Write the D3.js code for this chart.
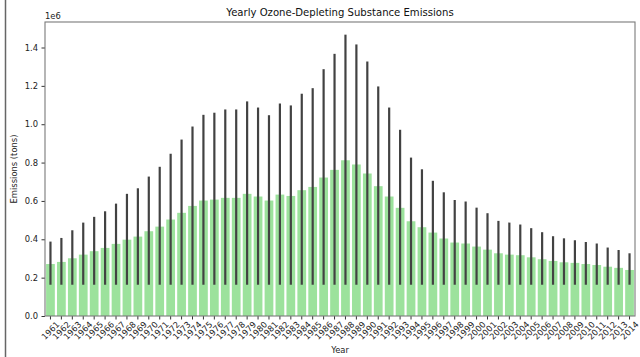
<!DOCTYPE html>
<html>
<head>
<meta charset="utf-8">
<script src="https://cdn.jsdelivr.net/npm/d3@7"></script>
<style>
  html, body { margin: 0; padding: 0; background: #fff; }
  svg { display: block; font-family: "DejaVu Sans", sans-serif; }
</style>
</head>
<body>
<svg id="chart" width="640" height="357"></svg>
<script>
// Yearly emissions (tons): bar = mean, whisker = confidence interval
const years = [1961,1962,1963,1964,1965,1966,1967,1968,1969,1970,1971,1972,1973,1974,1975,1976,1977,1978,1979,1980,
  1981,1982,1983,1984,1985,1986,1987,1988,1989,1990,1991,1992,1993,1994,1995,1996,1997,1998,1999,2000,
  2001,2002,2003,2004,2005,2006,2007,2008,2009,2010,2011,2012,2013,2014];

const meanEmissions = [271000,282000,301000,320000,338000,355000,376000,398000,414000,442000,
  466000,503000,538000,574000,602000,607000,616000,616000,637000,623000,
  602000,633000,626000,656000,673000,722000,762000,812000,790000,743000,
  677000,623000,564000,494000,463000,435000,404000,383000,378000,362000,
  346000,327000,320000,317000,306000,296000,287000,280000,277000,271000,
  266000,257000,251000,240000];

const ciHigh = [388000,407000,447000,487000,517000,546000,586000,637000,666000,727000,
  778000,846000,920000,988000,1049000,1060000,1077000,1077000,1119000,1087000,
  1047000,1108000,1098000,1159000,1188000,1287000,1367000,1467000,1416000,1327000,
  1197000,1087000,971000,826000,765000,705000,645000,605000,597000,565000,
  536000,496000,487000,477000,458000,437000,416000,405000,395000,386000,
  378000,357000,344000,327000];

const ciLow = [163000,163000,163000,163000,163000,163000,163000,163000,163000,163000,
  163000,163000,163000,163000,163000,163000,163000,163000,163000,163000,
  163000,163000,163000,163000,163000,163000,163000,163000,163000,163000,
  163000,163000,163000,163000,163000,163000,163000,163000,163000,163000,
  163000,163000,163000,163000,163000,163000,163000,163000,163000,163000,
  163000,163000,163000,163000];

const yTicks = [0, 200000, 400000, 600000, 800000, 1000000, 1200000, 1400000];

const rows = years.map((y, i) => ({ year: y, mean: meanEmissions[i], lo: ciLow[i], hi: ciHigh[i] }));

const svg = d3.select("#chart");
const margin = { left: 45, right: 5, top: 22, bottom: 41 };
const W = 640, H = 357;
const plotL = margin.left, plotR = W - margin.right, plotT = margin.top, plotB = H - margin.bottom;

// outer frame line on the left edge
svg.append("line").attr("x1", 5.5).attr("x2", 5.5).attr("y1", 0).attr("y2", H)
  .attr("stroke", "#666").attr("stroke-width", 1.5);

const x = d3.scaleBand().domain(years).range([plotL, plotR]).paddingInner(0.2).paddingOuter(0.1);
const y = d3.scaleLinear().domain([0, 1533000]).range([plotB, plotT]);

// bars
svg.append("g").selectAll("rect").data(rows).join("rect")
  .attr("x", d => x(d.year))
  .attr("width", x.bandwidth())
  .attr("y", d => y(d.mean))
  .attr("height", d => y(0) - y(d.mean))
  .attr("fill", "#9ce29c");

// confidence interval whiskers
svg.append("g").selectAll("line").data(rows).join("line")
  .attr("x1", d => x(d.year) + x.bandwidth() / 2)
  .attr("x2", d => x(d.year) + x.bandwidth() / 2)
  .attr("y1", d => y(d.lo))
  .attr("y2", d => y(d.hi))
  .attr("stroke", "#424242").attr("stroke-width", 2.2);

// y axis
const yAxis = svg.append("g").attr("transform", `translate(${plotL},0)`)
  .call(d3.axisLeft(y).tickValues(yTicks).tickSize(3.5).tickPadding(3.5).tickFormat(v => (v / 1e6).toFixed(1)));
yAxis.select(".domain").remove();
yAxis.selectAll("line").attr("stroke", "#333");
yAxis.selectAll("text").attr("font-size", 8.4).attr("fill", "#222").attr("font-family", "DejaVu Sans");

// x axis
const xAxis = svg.append("g").attr("transform", `translate(0,${plotB})`)
  .call(d3.axisBottom(x).tickSize(3.5).tickPadding(0));
xAxis.select(".domain").remove();
xAxis.selectAll("line").attr("stroke", "#333");
xAxis.selectAll("text")
  .attr("font-size", 8.4).attr("fill", "#222").attr("font-family", "DejaVu Sans")
  .attr("text-anchor", "middle").attr("dy", null)
  .attr("y", 14.5)
  .attr("transform", "rotate(-45,0,14.5)")
  .attr("dominant-baseline", "central");

// spines
svg.append("rect").attr("x", plotL).attr("y", plotT).attr("width", plotR - plotL).attr("height", plotB - plotT)
  .attr("fill", "none").attr("stroke", "#7a7a7a").attr("stroke-width", 1.1);

// offset text
svg.append("text").attr("x", plotL).attr("y", 19).attr("font-size", 8.4).attr("fill", "#222").text("1e6");

// title and axis labels
svg.append("text").attr("x", (plotL + plotR) / 2).attr("y", 16).attr("text-anchor", "middle")
  .attr("font-size", 10.1).attr("fill", "#111").text("Yearly Ozone-Depleting Substance Emissions");
svg.append("text").attr("x", (plotL + plotR) / 2).attr("y", 353).attr("text-anchor", "middle")
  .attr("font-size", 8.4).attr("fill", "#222").text("Year");
svg.append("text").attr("transform", `translate(17,${(plotT + plotB) / 2}) rotate(-90)`)
  .attr("text-anchor", "middle").attr("font-size", 8.4).attr("fill", "#222").text("Emissions (tons)");
</script>
</body>
</html>
